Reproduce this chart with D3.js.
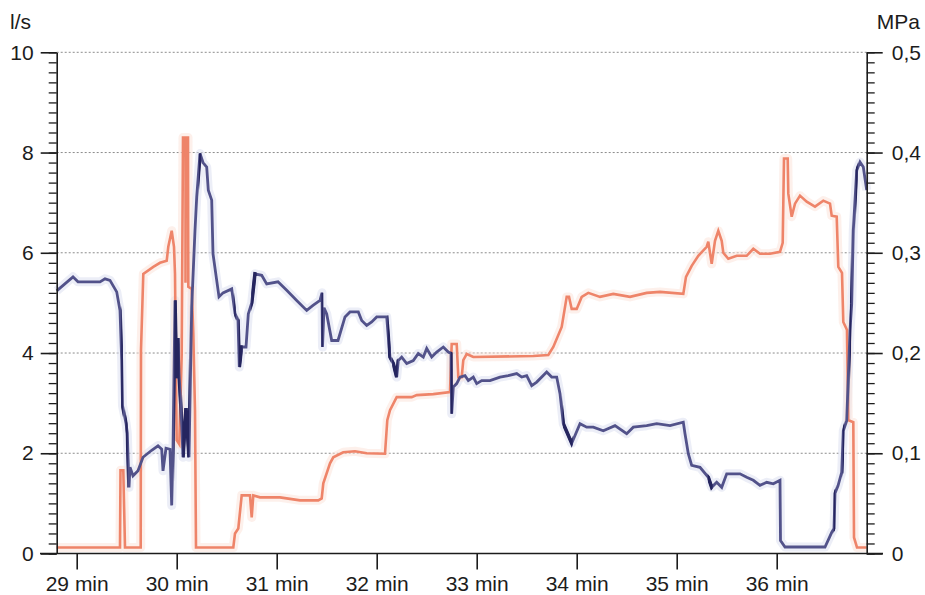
<!DOCTYPE html>
<html>
<head>
<meta charset="utf-8">
<script src="https://cdn.jsdelivr.net/npm/d3@7"></script>
<style>
  body { margin: 0; background: #fff; }
  text { font-family: "Liberation Sans", Arial, sans-serif; }
</style>
</head>
<body>
<div id="chart"></div>
<script>
// flow in l/s (left axis), [minute, value]
const flowSeries = [
  [28.800,5.24],[28.963,5.52],[29.013,5.42],[29.233,5.42],[29.283,5.48],[29.333,5.45],[29.400,5.22],
  [29.433,4.85],[29.450,3.85],[29.458,2.95],[29.493,2.6],[29.506,2.4],[29.523,1.32],[29.533,1.72],
  [29.563,1.55],[29.613,1.65],[29.663,1.92],[29.750,2.06],[29.813,2.15],[29.850,2.08],[29.863,1.65],
  [29.893,2.1],[29.933,2.08],[29.950,0.96],[29.963,2.1],[29.983,5.05],[29.998,3.5],[30.013,4.3],
  [30.023,3.6],[30.043,2.9],[30.063,1.92],[30.093,2.9],[30.123,1.92],[30.150,4.92],[30.183,6.45],
  [30.200,7.11],[30.233,7.98],[30.263,7.8],[30.300,7.71],[30.316,7.25],[30.350,7.05],[30.363,5.98],
  [30.400,5.45],[30.423,5.12],[30.463,5.2],[30.550,5.28],[30.583,4.79],[30.613,4.65],[30.626,3.72],
  [30.650,4.12],[30.693,4.12],[30.716,4.78],[30.750,5.0],[30.783,5.58],[30.850,5.55],[30.900,5.38],
  [31.013,5.42],[31.100,5.25],[31.200,5.05],[31.300,4.85],[31.363,4.95],[31.433,5.05],[31.453,5.2],
  [31.458,4.12],[31.473,4.9],[31.500,4.78],[31.550,4.25],[31.613,4.25],[31.683,4.72],[31.733,4.82],
  [31.816,4.82],[31.850,4.65],[31.900,4.55],[31.950,4.62],[32.000,4.72],[32.100,4.72],[32.116,4.32],
  [32.133,3.92],[32.166,3.79],[32.200,3.52],[32.216,3.85],[32.250,3.92],[32.300,3.79],[32.366,3.85],
  [32.416,3.99],[32.466,3.92],[32.500,4.09],[32.550,3.92],[32.600,4.02],[32.666,4.12],[32.716,4.02],
  [32.743,3.99],[32.750,2.79],[32.766,3.32],[32.800,3.39],[32.833,3.52],[32.883,3.55],[32.916,3.45],
  [32.966,3.52],[33.000,3.39],[33.050,3.45],[33.133,3.45],[33.233,3.52],[33.316,3.55],[33.400,3.59],
  [33.450,3.52],[33.500,3.55],[33.550,3.35],[33.600,3.42],[33.700,3.62],[33.750,3.52],[33.800,3.52],
  [33.833,3.19],[33.866,2.59],[33.950,2.2],[34.033,2.59],[34.100,2.52],[34.166,2.52],[34.266,2.45],
  [34.383,2.55],[34.500,2.39],[34.566,2.52],[34.700,2.55],[34.800,2.59],[34.933,2.55],[35.066,2.62],
  [35.083,2.39],[35.116,1.99],[35.150,1.76],[35.233,1.72],[35.316,1.52],[35.350,1.32],[35.400,1.42],
  [35.450,1.32],[35.500,1.59],[35.633,1.59],[35.700,1.52],[35.766,1.46],[35.833,1.36],[35.900,1.42],
  [35.966,1.39],[36.033,1.46],[36.038,0.26],[36.083,0.13],[36.483,0.13],[36.523,0.3],[36.550,0.42],
  [36.573,0.5],[36.583,1.2],[36.613,1.35],[36.650,1.62],[36.666,2.45],[36.700,2.65],[36.733,4.45],
  [36.750,4.98],[36.766,6.45],[36.800,7.64],[36.833,7.81],[36.866,7.71],[36.900,7.25]
];

// pressure in MPa (right axis), [minute, value]
const pressureSeries = [
  [28.800,0.006],[29.433,0.006],[29.438,0.083],[29.466,0.083],[29.483,0.006],[29.640,0.006],
  [29.643,0.203],[29.666,0.279],[29.766,0.286],[29.833,0.29],[29.900,0.292],[29.916,0.306],
  [29.950,0.322],[29.973,0.306],[29.983,0.279],[29.993,0.173],[30.000,0.113],[30.026,0.109],
  [30.050,0.199],[30.063,0.415],[30.088,0.415],[30.088,0.27],[30.089,0.415],[30.113,0.415],
  [30.116,0.266],[30.150,0.264],[30.166,0.219],[30.183,0.143],[30.193,0.006],[30.566,0.006],
  [30.583,0.02],[30.616,0.025],[30.650,0.058],[30.733,0.058],[30.750,0.036],[30.766,0.058],
  [30.833,0.056],[31.033,0.056],[31.233,0.053],[31.416,0.053],[31.450,0.055],[31.466,0.07],
  [31.533,0.09],[31.566,0.096],[31.666,0.101],[31.783,0.102],[31.900,0.1],[32.083,0.0995],
  [32.106,0.133],[32.133,0.143],[32.200,0.156],[32.350,0.156],[32.400,0.158],[32.566,0.159],
  [32.733,0.161],[32.750,0.209],[32.800,0.209],[32.816,0.176],[32.850,0.176],[32.866,0.193],
  [32.900,0.199],[32.966,0.196],[33.566,0.197],[33.716,0.198],[33.766,0.206],[33.850,0.226],
  [33.900,0.256],[33.923,0.256],[33.950,0.244],[34.000,0.244],[34.050,0.256],[34.116,0.26],
  [34.233,0.256],[34.366,0.259],[34.533,0.256],[34.700,0.26],[34.833,0.261],[35.066,0.259],
  [35.093,0.276],[35.150,0.287],[35.216,0.297],[35.300,0.306],[35.316,0.311],[35.350,0.289],
  [35.383,0.312],[35.416,0.322],[35.450,0.312],[35.466,0.3],[35.516,0.294],[35.600,0.297],
  [35.700,0.297],[35.766,0.304],[35.833,0.299],[35.933,0.299],[36.033,0.301],[36.060,0.31],
  [36.073,0.394],[36.110,0.394],[36.116,0.359],[36.150,0.336],[36.183,0.349],[36.233,0.357],
  [36.300,0.351],[36.383,0.346],[36.466,0.352],[36.533,0.349],[36.550,0.337],[36.600,0.336],
  [36.616,0.286],[36.653,0.28],[36.666,0.231],[36.703,0.223],[36.716,0.133],[36.766,0.131],
  [36.773,0.016],[36.803,0.006],[36.900,0.006]
];

// darker, blotchy stretches of the flow trace (minute ranges)
const darkRanges = [
  [29.445,29.462],[29.488,29.51],[29.975,30.03],[30.055,30.125],[30.222,30.245],[30.575,30.59],
  [30.62,30.66],[30.745,30.8],[31.448,31.462],[32.11,32.14],[32.155,32.21],[32.74,32.76],
  [33.86,33.96],[35.31,35.36],[36.57,36.585],[36.66,36.675],[36.73,36.745],[36.79,36.81]
];

const timeTicks = [29, 30, 31, 32, 33, 34, 35, 36];
const flowTicks = [0, 2, 4, 6, 8, 10];
const pressureTicks = [0, 0.1, 0.2, 0.3, 0.4, 0.5];

const width = 925, height = 595;
const svg = d3.select("#chart").append("svg")
    .attr("width", width)
    .attr("height", height);

const x = d3.scaleLinear().domain([28.8, 36.9]).range([56.7, 866.7]);
const yL = d3.scaleLinear().domain([0, 10]).range([553.5, 52.3]);
const yR = d3.scaleLinear().domain([0, 0.5]).range([553.5, 52.3]);

const ink = "#1c1c1c";
const fontSize = "21px";

// dotted gridlines
svg.append("g")
    .selectAll("line")
    .data(flowTicks.filter(d => d > 0))
    .enter().append("line")
    .attr("x1", x(28.8))
    .attr("x2", x(36.9))
    .attr("y1", d => yL(d))
    .attr("y2", d => yL(d))
    .attr("stroke", "#8c8c8c")
    .attr("stroke-width", 1)
    .attr("stroke-dasharray", "2,2");

// lines
const lineFlow = d3.line().x(d => x(d[0])).y(d => yL(d[1]));
const linePress = d3.line().x(d => x(d[0])).y(d => yR(d[1]));

// faint halo (scanned print look)
svg.append("path")
    .datum(flowSeries)
    .attr("d", lineFlow)
    .attr("fill", "none")
    .attr("stroke", "#d9ddf0")
    .attr("stroke-opacity", 0.5)
    .attr("stroke-width", 9)
    .attr("stroke-linejoin", "round");
svg.append("path")
    .datum(pressureSeries)
    .attr("d", linePress)
    .attr("fill", "none")
    .attr("stroke", "#fbe1d8")
    .attr("stroke-opacity", 0.5)
    .attr("stroke-width", 9)
    .attr("stroke-linejoin", "round");

svg.append("path")
    .datum(pressureSeries)
    .attr("d", linePress)
    .attr("fill", "none")
    .attr("stroke", "#ee8469")
    .attr("stroke-width", 2.6)
    .attr("stroke-linejoin", "miter");

svg.append("path")
    .datum(flowSeries)
    .attr("d", lineFlow)
    .attr("fill", "none")
    .attr("stroke", "#52528a")
    .attr("stroke-width", 2.8)
    .attr("stroke-linejoin", "miter");

// darker blotches
const clip = svg.append("defs").append("clipPath").attr("id", "dark-clip");
clip.selectAll("rect")
    .data(darkRanges)
    .enter().append("rect")
    .attr("x", d => x(d[0]))
    .attr("width", d => x(d[1]) - x(d[0]))
    .attr("y", 0)
    .attr("height", height);
svg.append("path")
    .datum(flowSeries)
    .attr("d", lineFlow)
    .attr("clip-path", "url(#dark-clip)")
    .attr("fill", "none")
    .attr("stroke", "#25255f")
    .attr("stroke-width", 3.6);

// axes
function styleAxis(g) {
    g.selectAll("line, path").attr("stroke", ink).attr("stroke-width", 1.6);
    g.selectAll("text")
        .attr("fill", ink)
        .style("font-size", fontSize)
        .style("font-family", "'Liberation Sans', Arial, sans-serif");
}

const minorTicks = d3.range(0, 51).map(i => i * 0.2);

// left minor
svg.append("g")
    .attr("transform", `translate(${x(28.8)},0)`)
    .call(d3.axisLeft(yL).tickValues(minorTicks).tickSize(8).tickFormat(""))
    .call(g => g.select(".domain").remove())
    .call(styleAxis)
    .selectAll("line").attr("stroke-width", 1.3);

// left major
svg.append("g")
    .attr("transform", `translate(${x(28.8)},0)`)
    .call(d3.axisLeft(yL).tickValues(flowTicks).tickSize(16).tickSizeOuter(0).tickPadding(7)
        .tickFormat(d3.format("d")))
    .call(styleAxis);

// right minor
svg.append("g")
    .attr("transform", `translate(${x(36.9)},0)`)
    .call(d3.axisRight(yL).tickValues(minorTicks).tickSize(8).tickFormat(""))
    .call(g => g.select(".domain").remove())
    .call(styleAxis)
    .selectAll("line").attr("stroke-width", 1.3);

// right major
svg.append("g")
    .attr("transform", `translate(${x(36.9)},0)`)
    .call(d3.axisRight(yR).tickValues(pressureTicks).tickSize(16).tickSizeOuter(0).tickPadding(9)
        .tickFormat(d => d === 0 ? "0" : d3.format(".1f")(d).replace(".", ",")))
    .call(styleAxis);

// bottom axis
svg.append("line")
    .attr("x1", 40)
    .attr("x2", 883)
    .attr("y1", yL(0))
    .attr("y2", yL(0))
    .attr("stroke", ink)
    .attr("stroke-width", 1.6);

svg.append("g")
    .attr("transform", `translate(0,${yL(0)})`)
    .call(d3.axisBottom(x).tickValues(timeTicks).tickSize(16).tickPadding(7)
        .tickFormat(d => d + " min"))
    .call(g => g.select(".domain").remove())
    .call(styleAxis);

// unit labels
svg.append("text")
    .attr("x", 10)
    .attr("y", 29)
    .attr("fill", ink)
    .style("font-size", fontSize)
    .text("l/s");

svg.append("text")
    .attr("x", 920)
    .attr("y", 29)
    .attr("text-anchor", "end")
    .attr("fill", ink)
    .style("font-size", fontSize)
    .text("MPa");
</script>
</body>
</html>
